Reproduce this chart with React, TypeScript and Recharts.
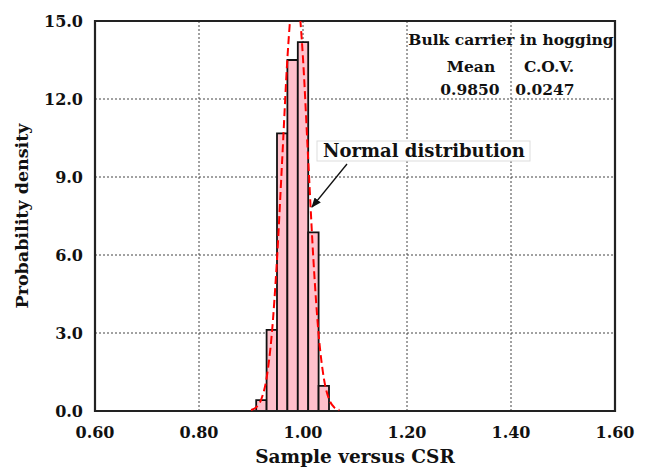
import {
  ComposedChart,
  Line,
  XAxis,
  YAxis,
  CartesianGrid,
  ReferenceArea,
} from "recharts";

// histogram bins (sample / CSR)
const binStart = [0.91, 0.93, 0.95, 0.97, 0.99, 1.01, 1.03];
const binEnd = [0.93, 0.95, 0.97, 0.99, 1.01, 1.03, 1.05];
const binDensity = [0.42, 3.12, 10.68, 13.5, 14.19, 6.87, 0.97];

// fitted normal curve
const curveX = [
  0.9, 0.91, 0.92, 0.93, 0.94, 0.95, 0.96, 0.97, 0.975, 0.98, 0.985, 0.99,
  0.995, 1.0, 1.01, 1.02, 1.03, 1.04, 1.05, 1.06, 1.07,
];
const curveY = [
  0.04, 0.14, 0.46, 1.27, 2.96, 5.83, 9.67, 13.56, 15.0, 16.06, 16.4, 16.06,
  15.0, 13.56, 9.67, 5.83, 2.96, 1.27, 0.46, 0.14, 0.04,
];

const xTicks = [0.6, 0.8, 1.0, 1.2, 1.4, 1.6];
const yTicks = [0, 3, 6, 9, 12, 15];

const FONT = "'DejaVu Serif', serif";

const curveData = curveX.map((x, i) => ({ x, y: curveY[i] }));

export default function App() {
  const tickStyle = { fill: "#111", fontSize: 16, fontWeight: 700, fontFamily: FONT };
  return (
    <div style={{ position: "absolute", left: 0, top: 0, width: 651, height: 468, background: "#fff" }}>
      <ComposedChart
        width={651}
        height={468}
        margin={{ top: 21, right: 36, bottom: 0, left: 0 }}
      >
        <CartesianGrid
          xAxisId="b"
          yAxisId="l"
          stroke="#444"
          strokeDasharray="2 2"
          strokeWidth={1}
          horizontalValues={yTicks}
          verticalValues={xTicks}
        />
        <XAxis
          xAxisId="b"
          type="number"
          dataKey="x"
          domain={[0.6, 1.6]}
          ticks={xTicks}
          allowDataOverflow
          height={57}
          tickLine={false}
          tickSize={0}
          tickMargin={16}
          axisLine={false}
          tick={tickStyle}
          tickFormatter={(v: number) => v.toFixed(2)}
          label={{
            value: "Sample versus CSR",
            position: "insideBottom",
            offset: 5,
            style: { fill: "#111", fontSize: 18.5, fontWeight: 700, fontFamily: FONT },
          }}
        />
        <YAxis
          yAxisId="l"
          type="number"
          domain={[0, 15]}
          ticks={yTicks}
          allowDataOverflow
          width={95}
          tickLine={false}
          tickSize={0}
          tickMargin={12}
          axisLine={false}
          tick={tickStyle}
          tickFormatter={(v: number) => v.toFixed(1)}
          label={{
            value: "Probability density",
            angle: -90,
            position: "insideLeft",
            offset: 22,
            style: { textAnchor: "middle", fill: "#111", fontSize: 17.5, fontWeight: 700, fontFamily: FONT },
          }}
        />
        {binDensity.map((d, i) => (
          <ReferenceArea
            key={i}
            xAxisId="b"
            yAxisId="l"
            x1={binStart[i]}
            x2={binEnd[i]}
            y1={0}
            y2={d}
            fill="#ffc0cb"
            fillOpacity={1}
            stroke="#111"
            strokeWidth={1.8}
          />
        ))}
        {/* plot frame */}
        <ReferenceArea
          xAxisId="b"
          yAxisId="l"
          x1={0.6}
          x2={1.6}
          y1={0}
          y2={15}
          fill="none"
          stroke="#222"
          strokeWidth={2.2}
        />
        <Line
          xAxisId="b"
          yAxisId="l"
          data={curveData}
          dataKey="y"
          type="monotone"
          stroke="#ff0000"
          strokeWidth={2}
          strokeDasharray="8 4"
          dot={false}
          activeDot={false}
          isAnimationActive={false}
        />
      </ComposedChart>
      <svg
        width={651}
        height={468}
        style={{ position: "absolute", left: 0, top: 0, pointerEvents: "none" }}
        fontFamily={FONT}
        fontWeight={700}
        fill="#111"
      >
        <defs>
          <marker id="arr" markerWidth="10" markerHeight="8" refX="9" refY="4" orient="auto" markerUnits="userSpaceOnUse">
            <path d="M0,0 L10,4 L0,8 Z" fill="#111" />
          </marker>
        </defs>
        <text x={511} y={45} fontSize={15.5} textAnchor="middle">Bulk carrier in hogging</text>
        <text x={471} y={72} fontSize={15.5} textAnchor="middle">Mean</text>
        <text x={549} y={72} fontSize={15.5} textAnchor="middle">C.O.V.</text>
        <text x={470} y={95} fontSize={15.5} textAnchor="middle">0.9850</text>
        <text x={545} y={95} fontSize={15.5} textAnchor="middle">0.0247</text>
        <rect x={317} y={141} width={213} height={20} fill="#fff" stroke="#ddd" strokeWidth={1} />
        <text x={424} y={157} fontSize={18} textAnchor="middle">Normal distribution</text>
        <line x1={347} y1={164} x2={312} y2={207} stroke="#111" strokeWidth={1.3} markerEnd="url(#arr)" />
      </svg>
    </div>
  );
}
